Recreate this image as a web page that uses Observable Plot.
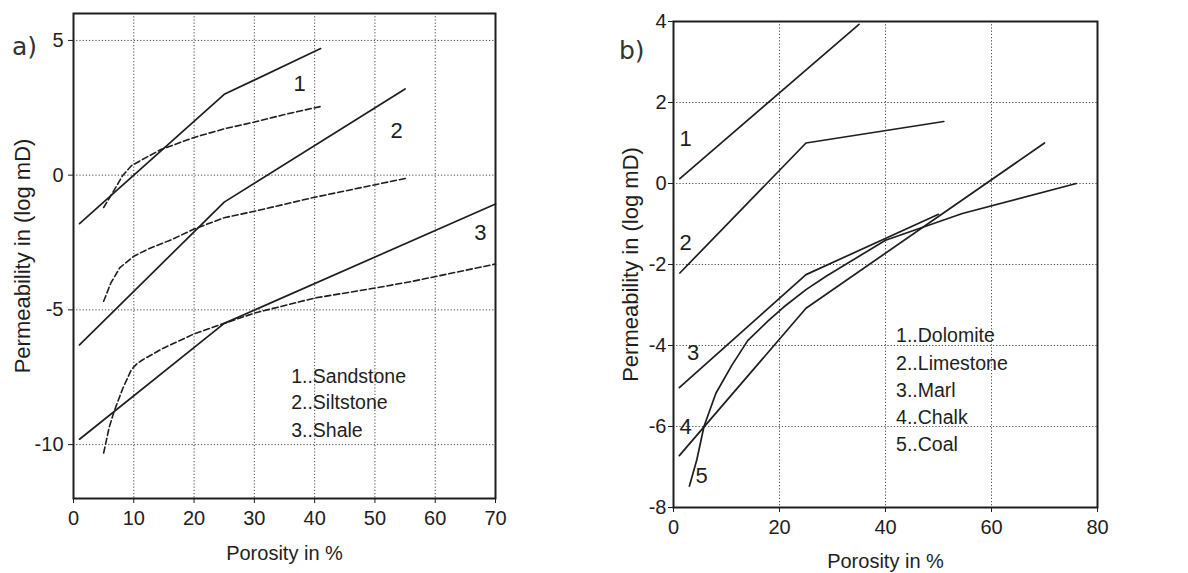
<!DOCTYPE html>
<html><head><meta charset="utf-8">
<script src="https://cdn.jsdelivr.net/npm/d3@7"></script>
<script src="https://cdn.jsdelivr.net/npm/@observablehq/plot@0.6"></script>
<style>
body{margin:0;background:#fff;font-family:"Liberation Sans",Arial,sans-serif;}
#wrap{position:relative;width:1188px;height:573px;overflow:hidden;}
.panel{position:absolute;top:0;}
.tag{position:absolute;font-family:"DejaVu Sans",sans-serif;font-size:25px;color:#333;line-height:1;}
</style></head><body>
<div id="wrap">
<div id="pa" class="panel" style="left:0"></div>
<div id="pb" class="panel" style="left:594px"></div>
<div class="tag" style="left:12px;top:34px">a)</div>
<div class="tag" style="left:619px;top:38px">b)</div>
</div>
<script>
// ---- Panel a) data (porosity %, permeability log mD) ----
const sandstoneX = [1, 25, 41];
const sandstoneY = [-1.8, 3.0, 4.7];
const sandstoneDashX = [5, 6.5, 8.2, 9.6, 12, 14.5, 20, 25, 30, 35, 41];
const sandstoneDashY = [-1.2, -0.65, 0, 0.35, 0.65, 0.95, 1.4, 1.72, 1.97, 2.25, 2.55];
const siltstoneX = [1, 25, 55];
const siltstoneY = [-6.3, -1.0, 3.2];
const siltstoneDashX = [5, 6.2, 7.7, 10, 12.5, 16.4, 20, 25, 30, 40, 55.5];
const siltstoneDashY = [-4.68, -4.0, -3.43, -3.01, -2.73, -2.38, -2.0, -1.58, -1.34, -0.82, -0.1];
const shaleX = [1, 25, 70];
const shaleY = [-9.8, -5.5, -1.07];
const shaleDashX = [5, 5.9, 6.7, 8.2, 9.6, 10.6, 11.5, 14.9, 20, 25, 30, 40, 50, 56, 70];
const shaleDashY = [-10.31, -9.38, -8.79, -7.9, -7.22, -6.98, -6.85, -6.42, -5.89, -5.5, -5.12, -4.56, -4.19, -3.95, -3.3];
const curveLabelsA = ["1", "2", "3"];
const curveLabelXA = [37.5, 53.6, 67.5];
const curveLabelYA = [3.4, 1.64, -2.15];
const legendA = ["1..Sandstone", "2..Siltstone", "3..Shale"];
const legendYA = [-7.47, -8.46, -9.48];
const legendXA = 36.1;
const xTicksA = [0, 10, 20, 30, 40, 50, 60, 70];
const yTicksA = [-10, -5, 0, 5];

// ---- Panel b) data ----
const dolomiteX = [1.2, 35];
const dolomiteY = [0.12, 3.93];
const limestoneX = [1.2, 25, 51];
const limestoneY = [-2.21, 1.0, 1.53];
const marlX = [1.1, 25, 50];
const marlY = [-5.04, -2.25, -0.76];
const chalkX = [1.1, 25, 70];
const chalkY = [-6.72, -3.08, 1.0];
const coalX = [3, 4.4, 5.75, 8, 11, 14, 17.8, 20.8, 25, 28.8, 40, 54.5, 76];
const coalY = [-7.47, -6.82, -6.0, -5.18, -4.49, -3.88, -3.4, -3.05, -2.62, -2.29, -1.4, -0.74, 0];
const curveLabelsB = ["1", "2", "3", "4", "5"];
const curveLabelXB = [2.3, 2.3, 3.7, 2.3, 5.3];
const curveLabelYB = [1.1, -1.47, -4.19, -6.02, -7.21];
const legendB = ["1..Dolomite", "2..Limestone", "3..Marl", "4..Chalk", "5..Coal"];
const legendYB = [-3.75, -4.44, -5.11, -5.79, -6.45];
const legendXB = 42;
const xTicksB = [0, 20, 40, 60, 80];
const yTicksB = [-8, -6, -4, -2, 0, 2, 4];

const xLabel = "Porosity in %";
const yLabel = "Permeability in (log mD)";

function table(name, xs, ys) { return xs.map((x, i) => ({series: name, x, y: ys[i]})); }
function labels(texts, xs, ys) { return texts.map((t, i) => ({t, x: xs[i], y: ys[i]})); }

const ink = "#1e1e1e";
const gridStyle = {stroke: "#333", strokeOpacity: 0.9, strokeWidth: 1, strokeDasharray: "1.2,2"};
const fontFamily = "'Liberation Sans', Arial, sans-serif";

function panel({solid, dashed, xDomain, yDomain, xTicks, yTicks, gridXT, gridYT, curveLabels, legend,
                marginLeft, marginRight, marginTop, marginBottom, yLabelDx, xLabelOffset, yTickPad}) {
  const marks = [
    Plot.gridX(gridXT, {...gridStyle}),
    Plot.gridY(gridYT, {...gridStyle}),
    Plot.line(solid, {x: "x", y: "y", z: "series", stroke: ink, strokeWidth: 1.7}),
    Plot.axisX(xTicks, {tickSize: 5, tickPadding: 7, fontSize: 20, fill: ink, stroke: ink, tickFormat: d => String(d),
      label: xLabel, labelAnchor: "center", labelArrow: "none", labelOffset: xLabelOffset}),
    Plot.axisY(yTicks, {tickSize: 5, tickPadding: yTickPad, fontSize: 20, fill: ink, stroke: ink, tickFormat: d => String(d),
      label: null}),
    Plot.text([yLabel], {text: d => d, frameAnchor: "left", textAnchor: "middle", lineAnchor: "middle", rotate: -90, dx: -yLabelDx, fontSize: 22, fill: ink}),
    Plot.text(curveLabels, {x: "x", y: "y", text: "t", fontSize: 22, fill: ink}),
    Plot.text(legend, {x: "x", y: "y", text: "t", fontSize: 19.5, fill: ink, textAnchor: "start"}),
    Plot.frame({stroke: ink, strokeWidth: 2})
  ];
  if (dashed) marks.splice(3, 0, Plot.line(dashed, {x: "x", y: "y", z: "series", stroke: ink, strokeWidth: 1.6, strokeDasharray: "6,3"}));
  return Plot.plot({
    width: 594, height: 573,
    marginLeft, marginRight, marginTop, marginBottom,
    style: {fontFamily, fontSize: "20px", color: ink, background: "white"},
    x: {domain: xDomain},
    y: {domain: yDomain},
    marks
  });
}

const solidA = [...table("Sandstone", sandstoneX, sandstoneY), ...table("Siltstone", siltstoneX, siltstoneY), ...table("Shale", shaleX, shaleY)];
const dashedA = [...table("Sandstone", sandstoneDashX, sandstoneDashY), ...table("Siltstone", siltstoneDashX, siltstoneDashY), ...table("Shale", shaleDashX, shaleDashY)];
const solidB = [...table("Dolomite", dolomiteX, dolomiteY), ...table("Limestone", limestoneX, limestoneY), ...table("Marl", marlX, marlY), ...table("Chalk", chalkX, chalkY), ...table("Coal", coalX, coalY)];

document.getElementById("pa").append(panel({
  solid: solidA, dashed: dashedA, xDomain: [0, 70], yDomain: [-12, 6],
  xTicks: xTicksA, yTicks: yTicksA,
  gridXT: xTicksA.filter(d => d > 0 && d < 70), gridYT: yTicksA,
  curveLabels: labels(curveLabelsA, curveLabelXA, curveLabelYA),
  legend: labels(legendA, legendYA.map(() => legendXA), legendYA),
  marginLeft: 73, marginRight: 99, marginTop: 13, marginBottom: 75,
  yLabelDx: 51, xLabelOffset: 61, yTickPad: 5
}));

document.getElementById("pb").append(panel({
  solid: solidB, dashed: null, xDomain: [0, 80], yDomain: [-8, 4],
  xTicks: xTicksB, yTicks: yTicksB,
  gridXT: xTicksB.filter(d => d > 0 && d < 80), gridYT: yTicksB.filter(d => d > -8 && d < 4),
  curveLabels: labels(curveLabelsB, curveLabelXB, curveLabelYB),
  legend: labels(legendB, legendYB.map(() => legendXB), legendYB),
  marginLeft: 79, marginRight: 91, marginTop: 21, marginBottom: 66,
  yLabelDx: 43, xLabelOffset: 60, yTickPad: 2
}));
</script>
</body></html>
